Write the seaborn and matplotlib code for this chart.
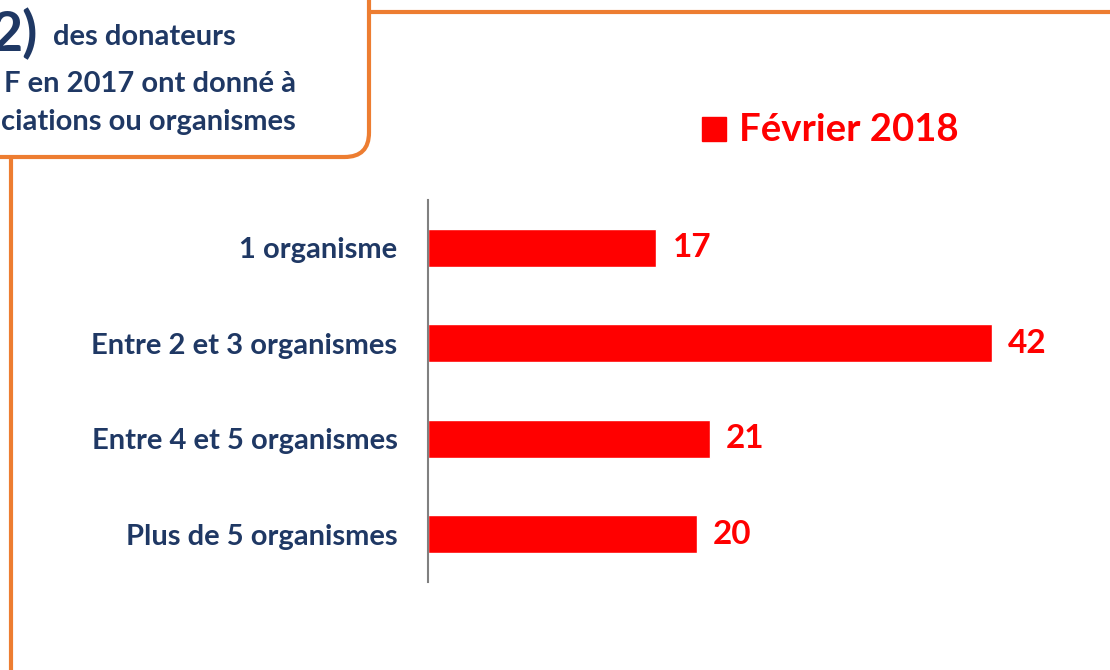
import matplotlib
matplotlib.use("Agg")
import matplotlib.pyplot as plt
from matplotlib.patches import FancyBboxPatch
import pandas as pd
import seaborn as sns

# données du graphique
categories = ["1 organisme", "Entre 2 et 3 organismes",
              "Entre 4 et 5 organismes", "Plus de 5 organismes"]
valeurs = [17, 42, 21, 20]
serie = "Février 2018"

df = pd.DataFrame({"Catégorie": categories, "Valeur": valeurs})

sns.set_style("white")
plt.rcParams["font.family"] = ["Lato", "DejaVu Sans"]

navy = "#1F3864"
rouge = "#FF0000"
orange = "#ED7D31"

W, H = 1110, 670
fig = plt.figure(figsize=(W / 100, H / 100), dpi=100)
ax = fig.add_axes([428 / W, 1 - 582 / H, 670 / W, 382 / H])

sns.barplot(data=df, y="Catégorie", x="Valeur", color=rouge, width=0.4,
            orient="h", ax=ax, saturation=1)
ax.set_xlim(0, 49.9)
ax.set_xlabel("")
ax.set_ylabel("")
ax.set_xticks([])
sns.despine(ax=ax, left=False, bottom=True)
ax.spines["left"].set_color("#808080")
ax.spines["left"].set_linewidth(1.5)
ax.tick_params(axis="y", length=0, pad=22)
for lab in ax.get_yticklabels():
    lab.set_fontsize(21)
    lab.set_fontweight("bold")
    lab.set_color(navy)

# étiquettes de valeurs
for i, v in enumerate(valeurs):
    ax.text(v + 1.2, i, str(v), va="center", ha="left", color=rouge,
            fontsize=24, fontweight="bold")

# légende
fig.patches.append(plt.Rectangle((702 / W, 1 - 141 / H), 24 / W, 24 / H,
                                 transform=fig.transFigure, color=rouge))
fig.text(739 / W, 1 - 141 / H, serie, color=rouge, fontsize=27.5,
         fontweight="bold", va="baseline", ha="left")

# cadre orange en haut à gauche
box = FancyBboxPatch((-200 / W, 1 - 157 / H), 569 / W, 300 / H,
                     boxstyle="round,pad=0,rounding_size=0.022",
                     transform=fig.transFigure, fill=False,
                     edgecolor=orange, linewidth=3, mutation_aspect=W / H)
fig.patches.append(box)
fig.add_artist(plt.Line2D([369 / W, 1], [1 - 12 / H] * 2,
                          transform=fig.transFigure, color=orange, lw=3))
fig.add_artist(plt.Line2D([11 / W] * 2, [0, 1 - 157 / H],
                          transform=fig.transFigure, color=orange, lw=3))

fig.text(38 / W, 1 - 51 / H, "2)", color=navy, fontsize=40,
         fontweight="bold", va="baseline", ha="right")
fig.text(53 / W, 1 - 45 / H, "des donateurs", color=navy, fontsize=21,
         fontweight="bold", va="baseline", ha="left")
fig.text(296 / W, 1 - 92 / H, "F en 2017 ont donné à", color=navy,
         fontsize=21, fontweight="bold", va="baseline", ha="right")
fig.text(296 / W, 1 - 130 / H, "ciations ou organismes", color=navy,
         fontsize=21, fontweight="bold", va="baseline", ha="right")

plt.savefig("out.png", dpi=100)
